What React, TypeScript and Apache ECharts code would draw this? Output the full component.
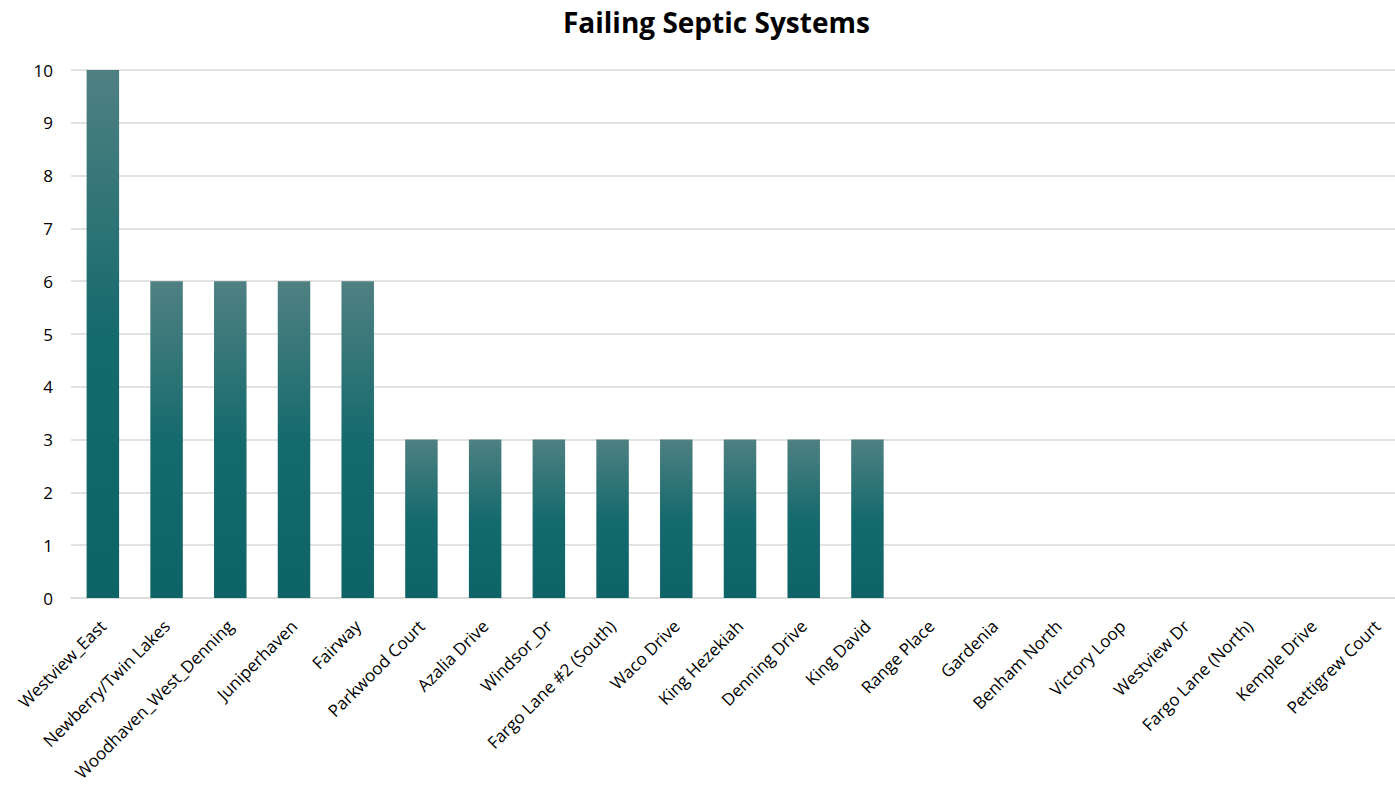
import React, { useEffect, useRef } from "react";
import * as echarts from "echarts";

const categories = [
  "Westview_East", "Newberry/Twin Lakes", "Woodhaven_West_Denning", "Juniperhaven", "Fairway",
  "Parkwood Court", "Azalia Drive", "Windsor_Dr", "Fargo Lane #2 (South)", "Waco Drive",
  "King Hezekiah", "Denning Drive", "King David", "Range Place", "Gardenia", "Benham North",
  "Victory Loop", "Westview Dr", "Fargo Lane (North)", "Kemple Drive", "Pettigrew Court",
];
const values = [10, 6, 6, 6, 6, 3, 3, 3, 3, 3, 3, 3, 3, 0, 0, 0, 0, 0, 0, 0, 0];
const title = "Failing Septic Systems";

export default function App() {
  const ref = useRef<HTMLDivElement>(null);
  useEffect(() => {
    const chart = echarts.init(ref.current!, null, { renderer: "svg" });
    const font = "Open Sans";
    chart.setOption({
      animation: false,
      title: {
        text: title,
        left: 558,
        top: 3,
        textStyle: { fontFamily: font, fontWeight: "bold", fontSize: 28, color: "#000" },
      },
      grid: { left: 71, top: 70, bottom: 188, right: -14, outerBoundsMode: "none", containLabel: false },
      xAxis: {
        type: "category",
        data: categories,
        axisLine: { show: true, lineStyle: { color: "#d9d9d9", width: 1.5 } },
        axisTick: { show: false },
        axisLabel: {
          interval: 0,
          rotate: 45,
          fontFamily: font,
          fontSize: 17,
          color: "#000",
          margin: 25,
        },
      },
      yAxis: {
        type: "value",
        min: 0,
        max: 10,
        interval: 1,
        axisLine: { show: false },
        axisTick: { show: false },
        splitLine: { lineStyle: { color: "#d9d9d9", width: 1.5 } },
        axisLabel: { fontFamily: font, fontSize: 17, color: "#000", margin: 18 },
      },
      series: [
        {
          type: "bar",
          data: values,
          barCategoryGap: "49%",
          itemStyle: {
            color: new echarts.graphic.LinearGradient(0, 0, 0, 1, [
              { offset: 0, color: "#4f8082" },
              { offset: 0.5, color: "#156a6d" },
              { offset: 1, color: "#0e6367" },
            ]),
          },
        },
      ],
    });
    return () => chart.dispose();
  }, []);
  return (
    <div
      ref={ref}
      style={{ position: "fixed", left: 0, top: 0, width: 1395, height: 786, background: "#fff" }}
    />
  );
}
